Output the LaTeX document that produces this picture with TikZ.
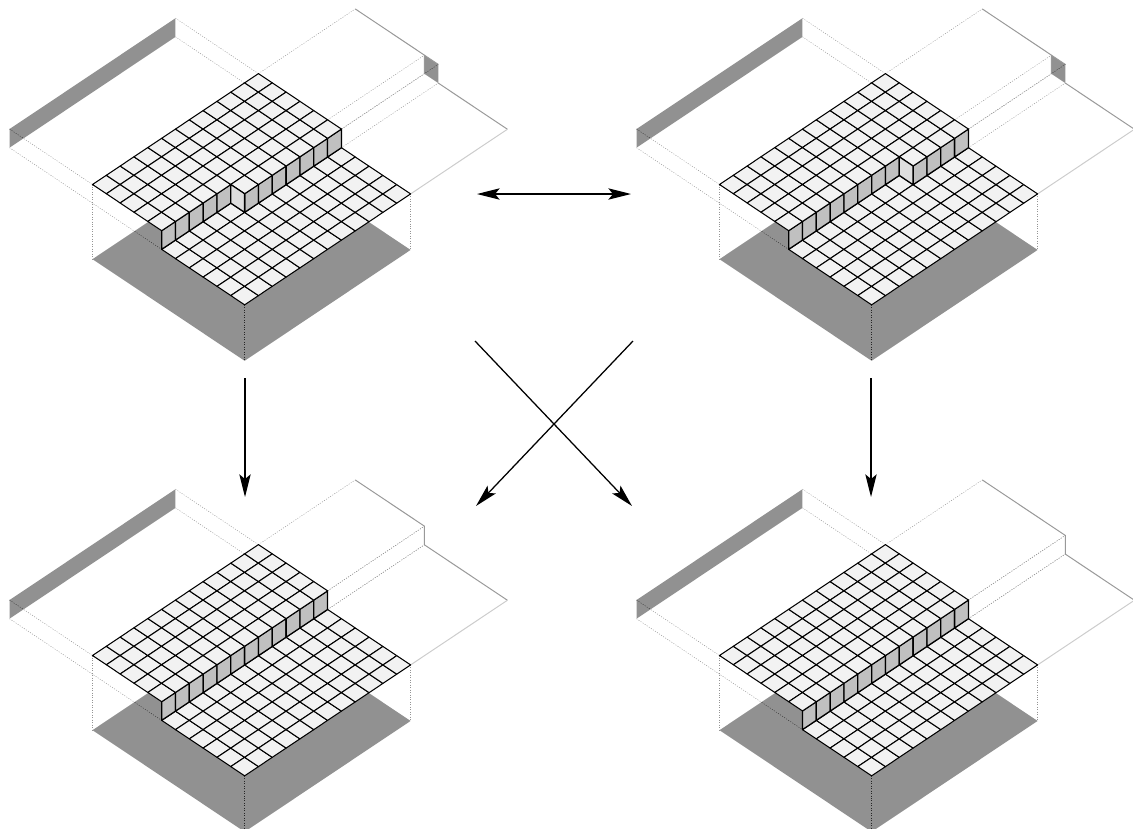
\documentclass[tikz,border=0pt]{standalone}
\usetikzlibrary{arrows.meta}
\definecolor{shade}{HTML}{919191}
\definecolor{topface}{HTML}{F2F2F2}
\definecolor{riser}{HTML}{C0C0C0}
\definecolor{sideface}{HTML}{DEDEDE}
\definecolor{profile}{HTML}{999999}
\definecolor{faint}{HTML}{CCCCCC}
\tikzset{
  cell/.style={draw=black,line width=0.78pt,fill=topface,line join=round},
  risercell/.style={draw=black,line width=0.95pt,fill=riser,line join=round},
  sidecell/.style={draw=black,line width=0.95pt,fill=sideface,line join=round},
  ghost/.style={draw=black!42,line width=0.35pt,dash pattern=on 0.75pt off 1.1pt},
  ghostdark/.style={draw=black!85,line width=0.3pt,dash pattern=on 0.75pt off 1.1pt},
  prof/.style={draw=profile,line width=0.75pt},
  faintprof/.style={draw=faint,line width=0.75pt},
  shadeface/.style={fill=shade,draw=none},
  flow/.style={line width=0.95pt,-{Stealth[length=17pt,width=8.5pt,inset=3.5pt]}},
  flowboth/.style={line width=0.95pt,{Stealth[length=17pt,width=8.5pt,inset=3.5pt]}-{Stealth[length=17pt,width=8.5pt,inset=3.5pt]}},
  iso/.style={x={(10.3725pt,-6.93pt)},y={(10.3725pt,6.93pt)},z={(0pt,-14pt)}}
}
% #1,#2 origin; #3 step position for j<#4; #5 step position for j>=#4
\newcommand{\stairpanel}[5]{%
\begin{scope}[shift={(#1*0.75pt,-#2*0.75pt)},iso]
  % floor
  \fill[shadeface] (0,0,4) -- (11,0,4) -- (11,12,4) -- (0,12,4) -- cycle;
  % left wall
  \fill[shadeface] (-6,0,0) -- (-6,12,0) -- (-6,12,1) -- (-6,0,1) -- cycle;
  % right profile
  \ifnum#3=#5\relax\else
    \fill[shadeface] (#3,19,0) -- (#5,19,0) -- (#5,19,1) -- (#3,19,1) -- cycle;
  \fi
  \draw[prof] (0,19,0) -- (#3,19,0) -- (#3,19,1);
  \draw[prof] (#5,19,1) -- (11,19,1);
  \ifnum#3=#5\relax\else
    \draw[prof] (#3,19,0) -- (#5,19,0);
  \fi
  \draw[faintprof] (11,19,1) -- (11,12,1);
  % projection lines
  \draw[ghost] (-6,0,0) -- (0,0,0);
  \draw[ghost] (-6,0,1) -- (#3,0,1);
  \draw[ghost] (-6,12,0) -- (0,12,0);
  \draw[ghost] (-6,12,1) -- (0,12,1);
  \draw[ghost] (0,12,0) -- (0,19,0);
  \draw[ghost] (#3,12,0) -- (#3,19,0);
  \draw[ghost] (#3,12,1) -- (#3,19,1);
  \draw[ghost] (#5,12,0) -- (#5,19,0);
  \draw[ghost] (#5,12,1) -- (#5,19,1);
  \draw[ghost] (0,0,0) -- (0,0,4);
  \draw[ghost] (11,12,1) -- (11,12,4);
  % the same lines where they cross the shaded faces
  \draw[ghostdark] (11,0,1) -- (11,0,4);
  \begin{scope}
    \clip (0,0,4) -- (11,0,4) -- (11,12,4) -- (0,12,4) -- cycle;
    \draw[ghostdark] (-6,0,1) -- (#3,0,1);
  \end{scope}
  \begin{scope}
    \clip (-6,0,0) -- (-6,12,0) -- (-6,12,1) -- (-6,0,1) -- cycle;
    \draw[ghostdark] (-6,0,0) -- (0,0,0);
  \end{scope}
  \ifnum#3=#5\relax\else
    \begin{scope}
      \clip (#3,19,0) -- (#5,19,0) -- (#5,19,1) -- (#3,19,1) -- cycle;
      \draw[ghostdark] (#5,12,0) -- (#5,19,0);
    \end{scope}
  \fi
  % lower level and risers, then upper level
  \foreach \j in {0,...,11}{
    \ifnum\j<#4\relax\edef\imax{#3}\else\edef\imax{#5}\fi
    \foreach \i in {\imax,...,10}{
      \path[cell] (\i,\j,1) -- ++(1,0,0) -- ++(0,1,0) -- ++(-1,0,0) -- cycle;
    }
    \path[risercell] (\imax,\j,0) -- (\imax,\j+1,0) -- (\imax,\j+1,1) -- (\imax,\j,1) -- cycle;
    \pgfmathtruncatemacro{\iend}{\imax-1}
    \foreach \i in {0,...,\iend}{
      \path[cell] (\i,\j,0) -- ++(1,0,0) -- ++(0,1,0) -- ++(-1,0,0) -- cycle;
    }
  }
  \ifnum#3=#5\relax\else
    \path[sidecell] (#3,#4,0) -- (#5,#4,0) -- (#5,#4,1) -- (#3,#4,1) -- cycle;
  \fi
\end{scope}}
\begin{document}
\begin{tikzpicture}[x=0.75pt,y=-0.75pt]
\useasboundingbox (0,0) rectangle (1133,829);
\stairpanel{92.5}{184.5}{5}{5}{6}
\stairpanel{719.5}{184.5}{5}{8}{6}
\stairpanel{92.5}{655.5}{5}{12}{5}
\stairpanel{719.5}{655.5}{6}{12}{6}
\coordinate (hl) at (477,194);
\coordinate (hr) at (631,194);
\coordinate (vla) at (245,378);
\coordinate (vlb) at (245,497);
\coordinate (vra) at (871,378);
\coordinate (vrb) at (871,497);
\coordinate (xa) at (475,341);
\coordinate (xb) at (632,506);
\coordinate (xc) at (633,341);
\coordinate (xd) at (476,506);
\draw[flowboth] (hl) -- (hr);
\draw[flow] (vla) -- (vlb);
\draw[flow] (vra) -- (vrb);
\draw[flow] (xa) -- (xb);
\draw[flow] (xc) -- (xd);
\end{tikzpicture}
\end{document}
